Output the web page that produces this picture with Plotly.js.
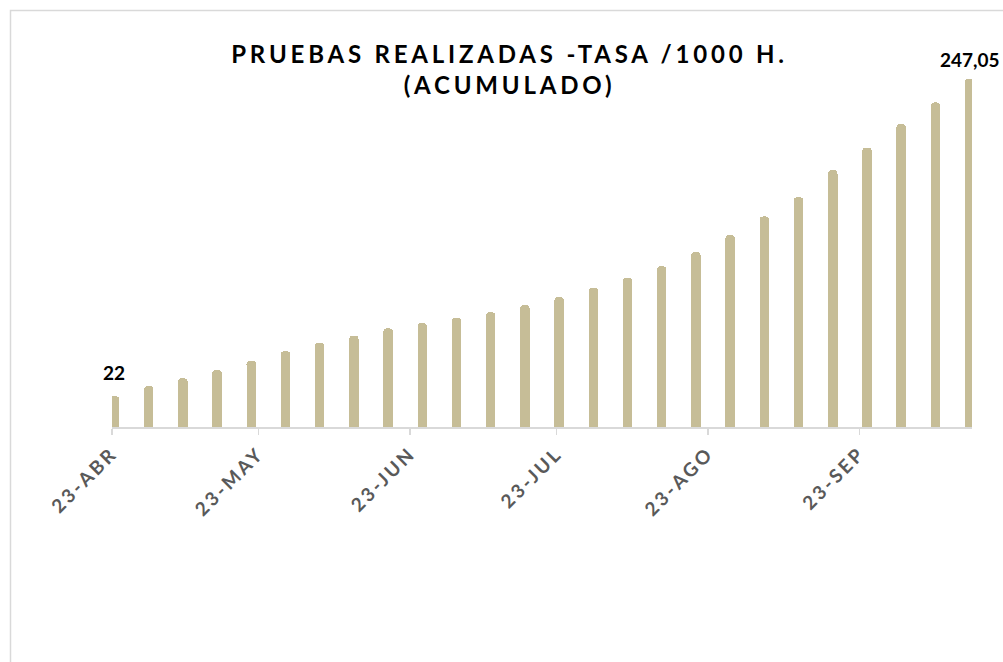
<!DOCTYPE html>
<html>
<head>
<meta charset="utf-8">
<script src="https://cdn.plot.ly/plotly-3.0.1.min.js"></script>
<style>
  html, body { margin: 0; padding: 0; background: #ffffff; }
  #chart { width: 1003px; height: 662px; }
  .gtitle { letter-spacing: 3.8px; }
  .xtick text { letter-spacing: 2.8px; }
</style>
</head>
<body>
<div id="chart"></div>
<script>
// Weekly dates (cumulative tests per 1000 inhabitants)
const fechas = [
  "2020-04-23","2020-04-30","2020-05-07","2020-05-14","2020-05-21","2020-05-28",
  "2020-06-04","2020-06-11","2020-06-18","2020-06-25","2020-07-02","2020-07-09",
  "2020-07-16","2020-07-23","2020-07-30","2020-08-06","2020-08-13","2020-08-20",
  "2020-08-27","2020-09-03","2020-09-10","2020-09-17","2020-09-24","2020-10-01",
  "2020-10-08","2020-10-15"
];
const tasa = [
  22, 29.1, 34.6, 40.6, 47.1, 53.9, 59.9, 64.9, 70.0, 73.8, 77.4, 81.5, 86.6,
  92.4, 98.8, 105.8, 114.0, 124.1, 136.1, 149.4, 163.1, 182.3, 198.2, 215.0, 230.2, 247.05
];
const tickFechas = ["2020-04-23","2020-05-23","2020-06-23","2020-07-23","2020-08-23","2020-09-23"];
const tickTextos = ["23-ABR","23-MAY","23-JUN","23-JUL","23-AGO","23-SEP"];
const etiquetas = ["22", "247,05"];

const DAY = 86400000;

const trace = {
  type: "bar",
  x: fechas,
  y: tasa,
  xperiod: DAY,
  xperiodalignment: "middle",
  width: 1.95 * DAY,
  marker: { color: "#c6bd97", cornerradius: 5, line: { width: 0 } },
  hoverinfo: "x+y"
};

const first = 0, last = tasa.length - 1;
const annotations = [
  { x: fechas[first] + " 12:00", y: tasa[first], text: etiquetas[0], yshift: 23 },
  { x: fechas[last] + " 12:00", y: tasa[last], text: etiquetas[1], yshift: 19 }
].map(a => Object.assign({
  xref: "x", yref: "y", showarrow: false, xanchor: "center", yanchor: "middle",
  font: { family: "Lato, 'Open Sans', sans-serif", size: 19, color: "#000000", weight: "bold" }
}, a));

const layout = {
  width: 1003,
  height: 662,
  margin: { l: 112, r: 31, t: 60, b: 235 },
  paper_bgcolor: "#ffffff",
  plot_bgcolor: "#ffffff",
  showlegend: false,
  bargap: 0,
  title: {
    text: "PRUEBAS REALIZADAS -TASA /1000 H.<br>(ACUMULADO)",
    font: { family: "Lato, 'Open Sans', sans-serif", size: 24, color: "#000000", weight: "bold" },
    xref: "container", x: 0.508, xanchor: "center",
    yref: "container", y: 1 - 63 / 662, yanchor: "middle"
  },
  xaxis: {
    type: "date",
    range: ["2020-04-23", "2020-10-16"],
    tickmode: "array",
    tickvals: tickFechas,
    ticktext: tickTextos,
    tickangle: -45,
    ticks: "outside",
    ticklen: 6,
    tickwidth: 1.5,
    tickcolor: "#d9d9d9",
    showline: true,
    linecolor: "#d9d9d9",
    linewidth: 2,
    showgrid: false,
    zeroline: false,
    tickfont: { family: "Lato, 'Open Sans', sans-serif", size: 19, color: "#595959", weight: "bold" },
    fixedrange: true
  },
  yaxis: {
    range: [0, 260.3],
    visible: false,
    showgrid: false,
    zeroline: false,
    fixedrange: true
  },
  annotations: annotations,
  shapes: [{
    type: "rect", xref: "paper", yref: "paper",
    x0: (10.5 - 112) / 860, x1: (1015 - 112) / 860,
    y0: (427 - 675) / 367, y1: (427 - 10.5) / 367,
    line: { color: "#d9d9d9", width: 1.5 },
    fillcolor: "rgba(0,0,0,0)",
    layer: "below"
  }]
};

Plotly.newPlot("chart", [trace], layout, { displayModeBar: false, staticPlot: true });
</script>
</body>
</html>
